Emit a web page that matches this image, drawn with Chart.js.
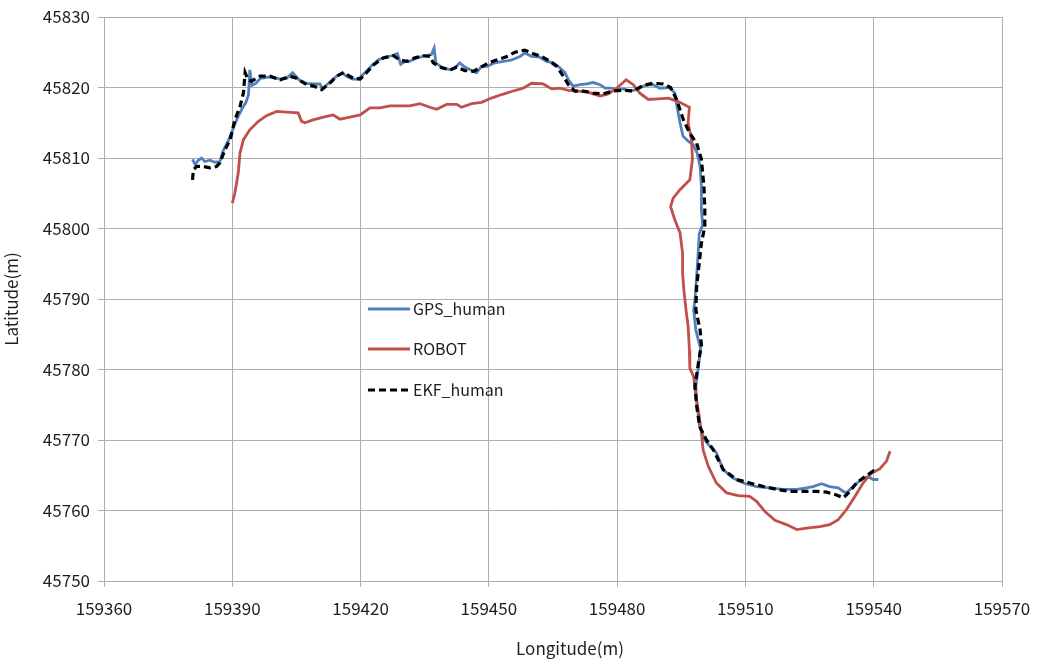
<!DOCTYPE html>
<html>
<head>
<meta charset="utf-8">
<script src="https://cdn.jsdelivr.net/npm/chart.js@4.4.0/dist/chart.umd.min.js"></script>
<style>
  html, body { margin: 0; padding: 0; background: #ffffff; }
  #wrap { width: 1038px; height: 665px; position: relative; }
</style>
</head>
<body>
<div id="wrap"><canvas id="c" width="1038" height="665"></canvas></div>
<script>
// ---- Data (longitude / latitude in metres) ----
const gpsX = [159380.7,159381.3,159382.1,159382.8,159383.6,159384.8,159385.9,159387.1,159387.9,159388.8,159389.6,159390.4,159391.3,159392.2,159393.2,159393.8,159394.1,159394.6,159395.5,159396.6,159398.8,159401.2,159402.7,159404.1,159405.8,159407.4,159409.1,159410.5,159411.1,159412.7,159414.2,159415.8,159416.7,159418.1,159419.5,159421.0,159422.6,159424.1,159425.7,159427.3,159428.6,159429.4,159430.4,159431.4,159433.1,159435.1,159436.6,159437.2,159437.6,159438.9,159440.9,159442.1,159443.2,159444.4,159446.0,159447.1,159448.3,159449.6,159451.4,159453.4,159455.3,159457.3,159458.4,159460.0,159461.9,159463.5,159465.1,159466.6,159467.8,159468.6,159469.7,159471.3,159472.9,159474.4,159476.0,159477.2,159478.7,159479.9,159481.4,159483.0,159484.5,159486.5,159488.4,159490.0,159492.3,159493.5,159494.0,159494.7,159495.4,159496.6,159497.8,159498.7,159499.4,159499.7,159499.7,159500.0,159499.2,159499.0,159498.7,159498.2,159497.9,159498.4,159499.5,159499.0,159498.4,159498.7,159499.3,159500.5,159501.7,159503.2,159504.8,159507.1,159509.5,159512.6,159515.7,159518.8,159522.0,159524.3,159525.8,159527.8,159529.7,159531.7,159532.9,159533.6,159535.2,159537.1,159538.7,159539.9,159541.1];
const gpsY = [45809.8,45809.1,45809.7,45810.0,45809.5,45809.7,45809.4,45809.5,45811.1,45812.1,45813.2,45814.5,45815.8,45816.9,45817.9,45819.0,45822.5,45820.3,45820.6,45821.3,45821.5,45821.2,45821.3,45822.1,45821.0,45820.6,45820.5,45820.5,45819.8,45820.7,45821.5,45822.1,45821.6,45821.2,45821.2,45822.1,45823.1,45823.9,45824.3,45824.5,45824.8,45823.3,45823.7,45823.7,45824.2,45824.5,45824.7,45825.6,45823.5,45822.9,45822.5,45822.8,45823.5,45822.9,45822.4,45822.1,45823.0,45823.0,45823.5,45823.7,45823.9,45824.4,45824.9,45824.4,45824.3,45823.7,45823.5,45822.8,45822.1,45821.1,45820.2,45820.4,45820.5,45820.7,45820.4,45819.9,45819.9,45819.7,45819.8,45819.5,45819.7,45820.3,45820.4,45819.9,45820.0,45819.2,45817.3,45815.0,45813.1,45812.4,45811.9,45810.7,45808.8,45806.0,45802.7,45800.5,45799.3,45797.0,45794.2,45789.9,45788.5,45785.6,45783.0,45780.4,45777.6,45774.8,45771.9,45770.0,45769.1,45768.2,45765.8,45764.6,45763.9,45763.4,45763.2,45763.0,45763.0,45763.2,45763.4,45763.8,45763.4,45763.2,45762.7,45762.5,45763.4,45764.4,45764.8,45764.4,45764.4];

const robotX = [159390.0,159390.6,159391.4,159391.8,159392.6,159394.1,159396.1,159398.0,159400.4,159402.7,159405.4,159406.2,159407.0,159408.9,159411.3,159413.6,159415.2,159417.5,159419.9,159422.2,159424.5,159426.9,159429.2,159431.5,159433.9,159436.2,159437.8,159440.1,159442.5,159443.6,159446.0,159448.3,159450.6,159453.0,159455.7,159458.0,159460.0,159462.7,159464.7,159466.6,159468.6,159470.9,159473.3,159476.0,159477.9,159479.9,159482.1,159483.8,159485.3,159487.3,159489.6,159492.0,159494.3,159496.9,159496.6,159497.4,159497.6,159497.0,159494.7,159493.1,159492.5,159493.5,159494.7,159495.3,159495.3,159495.6,159496.1,159496.6,159496.9,159497.0,159497.9,159498.4,159499.2,159499.7,159500.1,159501.3,159503.2,159505.6,159508.3,159511.0,159512.6,159514.5,159516.9,159519.6,159522.0,159524.3,159527.4,159529.7,159531.7,159533.6,159535.6,159537.5,159539.5,159541.4,159543.0,159543.8];
const robotY = [45803.6,45805.0,45807.9,45810.7,45812.6,45814.0,45815.2,45816.0,45816.6,45816.5,45816.4,45815.2,45815.0,45815.4,45815.8,45816.1,45815.5,45815.8,45816.1,45817.1,45817.1,45817.4,45817.4,45817.4,45817.7,45817.2,45816.9,45817.6,45817.6,45817.2,45817.7,45817.9,45818.5,45819.0,45819.5,45819.9,45820.6,45820.5,45819.8,45819.9,45819.6,45819.5,45819.3,45818.8,45819.1,45819.9,45821.1,45820.4,45819.2,45818.3,45818.4,45818.5,45818.0,45817.2,45815.0,45812.6,45809.8,45806.9,45805.5,45804.3,45803.1,45801.2,45799.4,45796.5,45793.7,45791.3,45788.5,45786.1,45782.8,45780.2,45779.0,45776.2,45773.4,45771.0,45768.6,45766.3,45763.9,45762.5,45762.1,45762.0,45761.3,45759.9,45758.6,45758.0,45757.3,45757.5,45757.7,45758.0,45758.7,45760.1,45762.0,45763.9,45765.3,45765.9,45767.0,45768.4];

const ekfX = [159380.7,159380.9,159381.7,159383.2,159384.8,159386.3,159387.1,159388.3,159389.5,159390.6,159391.8,159392.6,159393.0,159393.7,159394.5,159396.5,159398.8,159401.2,159403.5,159405.0,159407.4,159409.0,159410.9,159412.8,159414.4,159416.0,159418.3,159419.9,159421.4,159423.0,159425.3,159427.7,159429.2,159430.8,159432.7,159434.7,159436.2,159437.0,159439.0,159440.9,159442.5,159444.4,159446.4,159447.9,159449.9,159451.8,159454.2,159456.1,159458.4,159460.4,159462.3,159464.3,159465.9,159467.4,159468.6,159470.1,159472.1,159474.4,159476.8,159479.1,159481.4,159483.8,159486.1,159488.4,159490.8,159492.5,159493.9,159495.5,159497.0,159498.6,159499.7,159500.3,159500.5,159500.5,159499.7,159499.2,159498.6,159498.4,159499.4,159499.7,159499.0,159498.2,159498.6,159499.3,159500.9,159502.5,159504.8,159507.9,159511.0,159514.2,159517.3,159520.4,159523.5,159526.6,159529.0,159531.3,159532.9,159534.4,159536.0,159537.9,159539.9,159540.7];
const ekfY = [45806.9,45808.3,45808.8,45808.8,45808.6,45808.8,45809.3,45811.2,45812.6,45815.4,45817.3,45819.2,45822.1,45821.1,45820.9,45821.6,45821.6,45821.1,45821.6,45821.3,45820.4,45820.2,45819.7,45820.6,45821.6,45822.1,45821.3,45821.2,45822.1,45823.2,45824.2,45824.5,45823.9,45823.7,45824.2,45824.5,45824.4,45823.5,45822.8,45822.5,45822.9,45822.4,45822.3,45822.8,45823.5,45823.9,45824.4,45825.0,45825.3,45824.8,45824.4,45823.7,45823.0,45821.6,45820.4,45819.5,45819.5,45819.2,45819.1,45819.5,45819.6,45819.5,45820.3,45820.6,45820.5,45820.0,45818.3,45815.4,45813.5,45812.1,45809.8,45806.0,45802.7,45800.3,45797.9,45795.1,45791.8,45788.5,45785.6,45783.5,45780.9,45777.6,45774.8,45771.9,45770.0,45768.6,45765.8,45764.4,45763.9,45763.4,45763.0,45762.7,45762.7,45762.7,45762.6,45762.2,45761.8,45762.7,45763.9,45764.8,45765.6,45765.3];

const seriesNames = ['GPS_human', 'ROBOT', 'EKF_human'];
const xTicks = [159360, 159390, 159420, 159450, 159480, 159510, 159540, 159570];
const yTicks = [45750, 45760, 45770, 45780, 45790, 45800, 45810, 45820, 45830];
const xTitle = 'Longitude(m)';
const yTitle = 'Latitude(m)';

function pts(xs, ys) { return xs.map((x, i) => ({ x: x, y: ys[i] })); }

const FONT = "'Noto Sans CJK KR', 'Noto Sans', sans-serif";
const TEXT = '#1e1e1e';
const GRID = '#aeaeae';

const legendPlugin = {
  id: 'innerLegend',
  afterDatasetsDraw(chart) {
    const ctx = chart.ctx;
    const items = chart.data.datasets.slice().sort((a, b) => a.legendIndex - b.legendIndex);
    const x0 = 368, x1 = 410, tx = 413;
    const ys = [309, 349, 390];
    ctx.save();
    items.forEach((ds, i) => {
      ctx.beginPath();
      ctx.strokeStyle = ds.borderColor;
      ctx.lineWidth = ds.borderWidth;
      ctx.setLineDash(ds.borderDash || []);
      ctx.moveTo(x0, ys[i]);
      ctx.lineTo(x1, ys[i]);
      ctx.stroke();
      ctx.setLineDash([]);
      ctx.fillStyle = TEXT;
      ctx.font = '16px ' + FONT;
      ctx.textAlign = 'left';
      ctx.textBaseline = 'middle';
      ctx.fillText(ds.label, tx, ys[i]);
    });
    // x axis title, placed slightly right of the plot centre as in the original
    const ca = chart.chartArea;
    ctx.font = '17px ' + FONT;
    ctx.textAlign = 'center';
    ctx.textBaseline = 'middle';
    ctx.fillText(xTitle, (ca.left + ca.right) / 2 + 17, 649);
    ctx.restore();
  }
};

new Chart(document.getElementById('c'), {
  type: 'scatter',
  data: {
    datasets: [
      { label: seriesNames[0], legendIndex: 0, data: pts(gpsX, gpsY), showLine: true, borderColor: '#4f81bd', backgroundColor: '#4f81bd', borderWidth: 2.8, pointRadius: 0, tension: 0, order: 3 },
      { label: seriesNames[1], legendIndex: 1, data: pts(robotX, robotY), showLine: true, borderColor: '#c0504d', backgroundColor: '#c0504d', borderWidth: 2.8, pointRadius: 0, tension: 0, order: 2 },
      { label: seriesNames[2], legendIndex: 2, data: pts(ekfX, ekfY), showLine: true, borderColor: '#000000', backgroundColor: '#000000', borderWidth: 3.2, borderDash: [7, 4], pointRadius: 0, tension: 0, order: 1 }
    ]
  },
  options: {
    responsive: false,
    animation: false,
    devicePixelRatio: 1,
    layout: { padding: { top: 17, right: 36, left: 0, bottom: 0 } },
    plugins: { legend: { display: false }, tooltip: { enabled: false } },
    scales: {
      x: {
        type: 'linear',
        min: xTicks[0], max: xTicks[xTicks.length - 1],
        afterBuildTicks: (s) => { s.ticks = xTicks.map(v => ({ value: v })); },
        afterFit: (s) => { s.height = 84; s.paddingLeft = 0; s.paddingRight = 0; },
        grid: { color: GRID, lineWidth: 1, tickLength: 6, drawTicks: true },
        border: { color: GRID, width: 1 },
        ticks: { padding: 11, color: TEXT, font: { family: FONT, size: 17 }, maxRotation: 0, callback: (v) => String(v) },
        title: { display: false }
      },
      y: {
        type: 'linear',
        min: yTicks[0], max: yTicks[yTicks.length - 1],
        afterBuildTicks: (s) => { s.ticks = yTicks.map(v => ({ value: v })); },
        afterFit: (s) => { s.width = 104; s.paddingTop = 0; s.paddingBottom = 0; },
        grid: { color: GRID, lineWidth: 1, tickLength: 6, drawTicks: true },
        border: { color: GRID, width: 1 },
        ticks: { padding: 8, color: TEXT, font: { family: FONT, size: 17 }, callback: (v) => String(v) },
        title: { display: true, text: yTitle, color: TEXT, font: { family: FONT, size: 17 }, padding: { top: 1, bottom: 0 } }
      }
    }
  },
  plugins: [legendPlugin]
});
</script>
</body>
</html>
